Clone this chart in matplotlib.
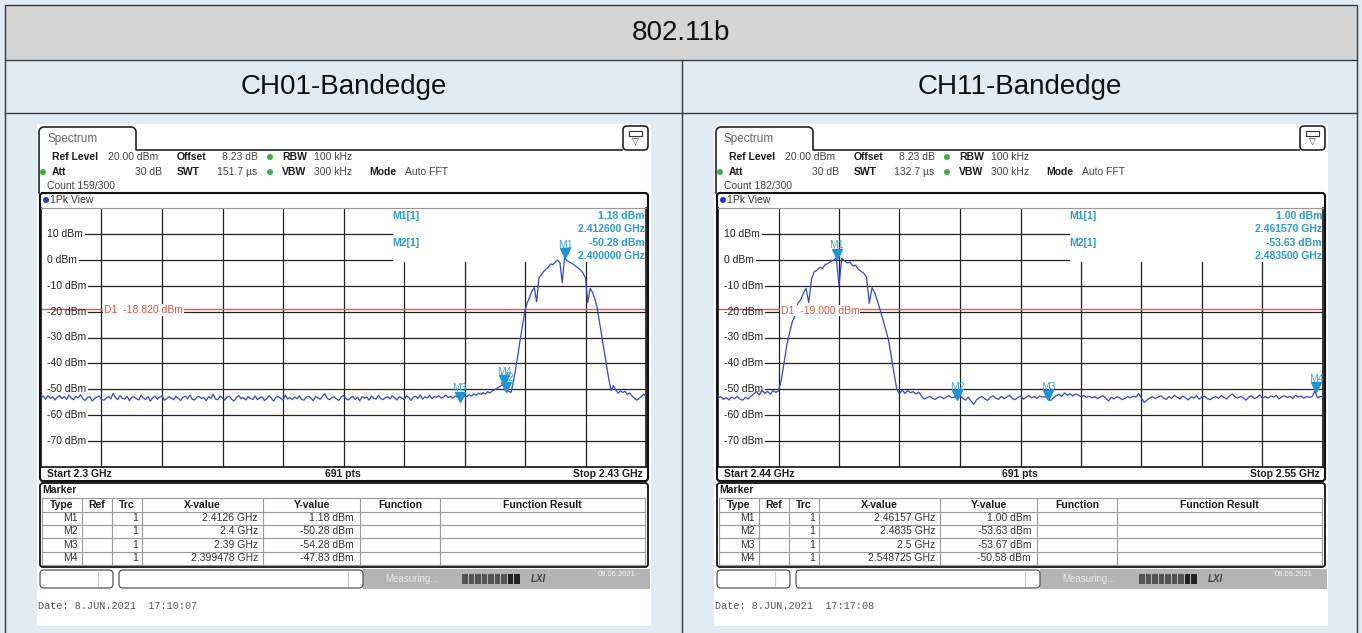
import numpy as np
import matplotlib
matplotlib.use('Agg')
import matplotlib.pyplot as plt
from matplotlib.patches import Rectangle, FancyBboxPatch, Circle
from matplotlib.transforms import offset_copy

plt.rcParams['font.family'] = ['Liberation Sans', 'DejaVu Sans']

# ---- data ----
title = '802.11b'
channels = ['CH01-Bandedge', 'CH11-Bandedge']

spans = [(2.30, 2.43), (2.44, 2.55)]
swt = ['151.7 µs', '132.7 µs']
counts = ['159/300', '182/300']
d1_level = [-18.82, -19.00]
clock = ['17:10:07', '17:17:08']

# trace levels in dBm, one value per 0.5 MHz across the span
ch01_level = [
    -53.2, -52.6, -53.8, -52.4, -53.5, -52.9, -54.1, -53.0, -52.5, -53.6,
    -52.8, -53.9, -52.2, -53.4, -54.0, -52.7, -53.3, -52.1, -53.7, -54.3,
    -53.1, -52.9, -54.5, -53.6, -53.0, -52.6, -53.9, -54.2, -53.4, -52.8,
    -53.7, -51.6, -53.2, -54.0, -52.4, -53.5, -53.8, -52.7, -54.4, -53.1,
    -52.9, -53.6, -54.1, -52.3, -53.4, -53.9, -52.8, -54.6, -53.3, -52.6,
    -53.8, -53.0, -52.5, -54.2, -53.6, -52.9, -53.4, -54.0, -52.7, -53.5,
    -54.3, -53.1, -52.6, -53.7, -52.2, -53.9, -54.1, -53.0, -52.8, -53.6,
    -53.2, -54.4, -52.9, -53.5, -51.9, -53.8, -54.0, -52.6, -53.3, -54.2,
    -53.0, -52.7, -53.9, -54.5, -53.1, -52.4, -53.6, -53.2, -54.1, -52.8,
    -53.5, -53.9, -52.6, -54.0, -53.3, -52.9, -54.3, -53.7, -52.5, -53.4,
    -54.6, -53.0, -52.8, -53.5, -54.1, -52.3, -53.7, -53.2, -54.0, -52.9,
    -53.6, -52.5, -53.9, -54.2, -53.1, -52.7, -53.4, -54.4, -52.8, -53.3,
    -53.8, -52.6, -51.8, -53.5, -54.0, -53.2, -52.9, -53.7, -54.3, -53.0,
    -52.4, -53.6, -54.1, -53.3, -52.7, -53.9, -53.1, -54.5, -52.8, -53.4,
    -53.0, -54.2, -52.6, -53.5, -53.8, -52.3, -53.6, -54.0, -53.2, -52.9,
    -53.7, -52.5, -53.3, -54.1, -52.8, -53.4, -53.9, -52.6, -53.1, -54.3,
    -53.0, -52.7, -53.5, -52.2, -53.8, -52.9, -53.3, -52.4, -53.6, -52.8,
    -53.1, -52.5, -53.4, -52.9, -52.3, -53.2, -52.7, -53.5, -52.6, -53.0,
    -54.3, -53.2, -52.6, -52.9, -52.1, -52.6, -51.8, -52.3, -51.5, -52.0,
    -51.3, -51.8, -50.9, -51.4, -50.6, -50.2, -49.6, -49.0, -48.4, -47.8,
    -50.3, -50.8, -51.2, -47.0, -42.0, -36.5, -30.5, -25.0, -19.5, -16.5,
    -14.5, -12.0, -10.8, -16.2, -7.0, -5.8, -4.5, -3.6, -2.8, -1.6,
    -1.9, -0.8, -0.2, -1.1, -8.8, 0.9, -0.3, -0.8, -1.4, -1.9,
    -2.6, -3.2, -4.1, -5.2, -7.0, -16.5, -11.0, -12.5, -15.0, -18.5,
    -24.0, -29.5, -35.0, -40.5, -46.0, -50.5, -48.6, -50.2, -51.5, -50.6,
    -51.2, -50.8, -52.0, -51.4, -52.6, -53.4, -54.2, -53.6, -52.8, -51.9,
    -52.7,
]

ch11_level = [
    -53.4, -52.8, -53.9, -53.2, -54.1, -53.0, -53.6, -52.7, -53.8, -54.2,
    -53.1, -53.7, -52.6, -51.8, -50.9, -52.2, -50.4, -51.6, -50.8, -51.9,
    -50.5, -51.2, -50.6, -46.5, -40.0, -33.0, -28.4, -24.0, -21.5, -16.8,
    -15.5, -13.0, -11.0, -16.5, -7.5, -4.6, -4.0, -2.9, -3.3, -1.8,
    -1.5, -0.6, -0.2, 0.8, -9.8, 0.5, -0.4, -1.2, -0.9, -2.4,
    -2.1, -3.6, -4.4, -5.2, -6.6, -16.8, -10.8, -12.8, -16.0, -19.5,
    -23.2, -27.0, -31.0, -37.4, -44.0, -50.0, -51.8, -50.2, -51.6, -50.5,
    -51.3, -50.9, -51.8, -51.1, -52.6, -53.8,
    -53.2, -52.7, -53.5, -53.9, -53.1, -52.8, -53.6, -53.0, -52.4, -53.3,
    -52.9, -53.6, -52.6, -53.4, -54.2, -53.0, -54.6, -55.8, -54.1, -53.2,
    -52.8, -53.7, -54.3, -53.1, -52.5, -53.4, -53.9, -52.7, -53.6, -53.0,
    -52.3, -53.5, -54.0, -53.2, -52.6, -53.8, -53.1, -52.4, -53.3, -52.8,
    -53.5, -52.6, -53.0, -52.9, -53.7, -54.3, -53.2, -52.5, -51.9, -52.8,
    -51.4, -52.3, -51.7, -52.6, -51.8, -52.2, -52.9, -52.4, -53.1, -52.7,
    -53.3, -52.8, -53.6, -53.0, -52.5, -53.4, -54.5, -53.1, -53.7, -52.9,
    -53.2, -54.0, -53.5, -52.8, -53.3, -52.6, -53.0, -51.6, -53.4, -55.1,
    -54.2, -53.3, -52.9, -53.6, -53.0, -52.5, -53.4, -53.9, -52.8, -53.5,
    -52.3, -53.1, -53.7, -52.6, -53.3, -54.1, -52.9, -53.4, -52.5, -53.8,
    -53.0, -52.7, -53.6, -54.0, -53.2, -52.8, -53.5, -52.4, -53.1, -53.7,
    -52.6, -51.8, -52.9, -53.4, -52.7, -53.3, -54.2, -53.0, -52.5, -53.6,
    -53.1, -52.2, -53.5, -52.8, -53.4, -52.6, -53.0, -52.4, -53.7, -52.9,
    -52.5, -53.2, -52.7, -53.6, -52.3, -53.0, -52.6, -53.4, -52.8, -53.1,
    -52.9, -50.6, -53.3, -52.7, -53.0,
]
levels = [ch01_level, ch11_level]

mk_names = ['M1', 'M2', 'M3', 'M4']
ch01_mk_freq = [2.4126, 2.4, 2.39, 2.399478]
ch01_mk_level = [1.18, -50.28, -54.28, -47.83]
ch11_mk_freq = [2.46157, 2.4835, 2.5, 2.548725]
ch11_mk_level = [1.00, -53.63, -53.67, -50.58]
mk_freq = [ch01_mk_freq, ch11_mk_freq]
mk_level = [ch01_mk_level, ch11_mk_level]

# ---- figure in pixel units ----
W, H = 1362, 633
fig = plt.figure(figsize=(W / 100, H / 100), dpi=100)
bg = fig.add_axes([0, 0, 1, 1])
bg.set_xlim(0, W)
bg.set_ylim(H, 0)
bg.axis('off')

BLUE_BG = '#e0ebf3'
LINE = '#3c3c3c'
TRACE = '#3347d4'
MK = '#1f93d6'
MKTXT = '#2a9ad8'
RED = '#e5534b'
FS = 7.5

bg.add_patch(Rectangle((0, 0), W, H, fc=BLUE_BG, ec='none', zorder=0))
bg.add_patch(Rectangle((5, 5), 1352, 55, fc='#d5d5d5', ec=LINE, lw=1, zorder=0.5))
bg.plot([5, 1357], [113, 113], color=LINE, lw=1)
bg.plot([5, 5], [60, H], color=LINE, lw=1)
bg.plot([1357, 1357], [60, H], color=LINE, lw=1)
bg.plot([682, 682], [60, H], color=LINE, lw=1)
bg.text(681, 33, title, ha='center', va='center', fontsize=20, color='#111')
bg.text(344, 87, channels[0], ha='center', va='center', fontsize=20, color='#111')
bg.text(1020, 87, channels[1], ha='center', va='center', fontsize=20, color='#111')

renderer = fig.canvas.get_renderer()


def txt(x, y, s, **kw):
    kw.setdefault('fontsize', FS)
    kw.setdefault('color', '#1a1a1a')
    kw.setdefault('va', 'center')
    return bg.text(x, y, s, **kw)


def draw_screen(n, ox):
    start, stop = spans[n]
    # white screenshot panel
    bg.add_patch(Rectangle((37 + ox, 124), 614, 502, fc='white', ec='none', zorder=0.6))

    # tab outline
    r = 5
    left, right, top, base = 39 + ox, 136 + ox, 127, 150
    t1 = np.linspace(np.pi, 1.5 * np.pi, 12)
    t2 = np.linspace(1.5 * np.pi, 2 * np.pi, 12)
    xs = np.concatenate([[left], left + r + r * np.cos(t1), right - r + r * np.cos(t2), [right, 622 + ox]])
    ys = np.concatenate([[193], top + r + r * np.sin(t1), top + r + r * np.sin(t2), [base, base]])
    bg.plot(xs, ys, color='#222', lw=1.2, zorder=2)
    txt(47 + ox, 139, 'Spectrum', fontsize=8.5, color='#666')
    bg.add_patch(FancyBboxPatch((623 + ox, 126), 25, 24, boxstyle='round,pad=0,rounding_size=4',
                                fc='white', ec='#222', lw=1.2, zorder=2))
    bg.add_patch(Rectangle((629 + ox, 131), 13, 5, fc='white', ec='#333', lw=0.8, zorder=3))
    txt(635.5 + ox, 142.5, '▽', ha='center', fontsize=6.5, color='#333')

    # settings header
    txt(52 + ox, 157, 'Ref Level', fontweight='bold')
    txt(108 + ox, 157, '20.00 dBm', color='#444')
    txt(177 + ox, 157, 'Offset', fontweight='bold')
    txt(222 + ox, 157, '8.23 dB', color='#444')
    txt(282 + ox, 157, 'RBW', fontweight='bold')
    txt(314 + ox, 157, '100 kHz', color='#444')
    txt(52 + ox, 172, 'Att', fontweight='bold')
    txt(162 + ox, 172, '30 dB', ha='right', color='#444')
    txt(177 + ox, 172, 'SWT', fontweight='bold')
    txt(217 + ox, 172, swt[n], color='#444')
    txt(282 + ox, 172, 'VBW', fontweight='bold')
    txt(314 + ox, 172, '300 kHz', color='#444')
    txt(369 + ox, 172, 'Mode', fontweight='bold')
    txt(405 + ox, 172, 'Auto FFT', color='#444')
    txt(47 + ox, 186, 'Count ' + counts[n], color='#444')
    for cx, cy in [(270 + ox, 157), (43 + ox, 172), (270 + ox, 172)]:
        bg.add_patch(Circle((cx, cy), 3, fc='#3fae49', ec='none', zorder=3))

    # trace window frame
    bg.add_patch(FancyBboxPatch((40 + ox, 193), 608, 288, boxstyle='round,pad=0,rounding_size=3',
                                fc='white', ec='#111', lw=1.5, zorder=1))
    bg.add_patch(Circle((46 + ox, 200), 3, fc='#2238c8', ec='none', zorder=3))
    txt(50 + ox, 200, '1Pk View', color='#333')
    txt(47 + ox, 474, 'Start %g GHz' % start, fontweight='bold')
    txt(343 + ox, 474, '691 pts', ha='center', fontweight='bold')
    txt(643 + ox, 474, 'Stop %g GHz' % stop, ha='right', fontweight='bold')

    ax = fig.add_axes([(41 + ox) / W, 1 - 467 / H, 605 / W, 259 / H])
    ax.set_xlim(start, stop)
    ax.set_ylim(-80, 20)
    ax.set_xticks([])
    ax.set_yticks([])
    for s in ['left', 'right', 'bottom']:
        ax.spines[s].set_color('#111')
        ax.spines[s].set_linewidth(1.2)
    ax.spines['top'].set_color('#999')
    ax.spines['top'].set_linewidth(0.8)

    span = stop - start
    for k in range(1, 10):
        ax.axvline(start + span * k / 10, ymin=0, ymax=0.79 if k >= 6 else 1,
                   color='#222', lw=0.9, zorder=1)

    axbb = ax.get_window_extent(renderer)
    for lv in range(10, -80, -10):
        t = ax.text(0.0099, lv, '%d dBm' % lv, transform=ax.get_yaxis_transform(),
                    va='center', ha='left', fontsize=FS, color='#222')
        bb = t.get_window_extent(renderer)
        xmin = (bb.x1 - axbb.x0) / axbb.width + 0.003
        ax.axhline(lv, xmin=xmin, xmax=0.58 if lv >= 0 else 1, color='#222', lw=0.9, zorder=1)

    # display line
    ax.axhline(d1_level[n], color=RED, lw=1, zorder=2)
    ax.text(0.104, d1_level[n] - 0.6, 'D1  %.3f dBm' % d1_level[n], transform=ax.get_yaxis_transform(),
            va='center', ha='left', fontsize=FS, color=RED, zorder=5,
            bbox=dict(fc='white', ec='none', pad=0.6))

    lev = levels[n]
    freq = np.linspace(start, stop, len(lev))
    ax.plot(freq, lev, color=TRACE, lw=0.9, zorder=3)

    tri = offset_copy(ax.transData, fig=fig, x=0, y=3.5, units='dots')
    for name, f, l in zip(mk_names, mk_freq[n], mk_level[n]):
        ax.plot([f], [l], marker='v', ms=6.5, color=MK, mec=MK, transform=tri, zorder=4, clip_on=False)
        ax.annotate(name, (f, l), xytext=(0, 12), textcoords='offset pixels', ha='center', va='center',
                    fontsize=FS, color='#3aa7de', zorder=4)

    # marker readout box
    f1, f2 = mk_freq[n][0], mk_freq[n][1]
    l1, l2 = mk_level[n][0], mk_level[n][1]
    tr = bg.transData
    ax.text(392 + ox, 216, 'M1[1]', transform=tr, va='center', fontsize=FS, color=MKTXT, fontweight='bold')
    ax.text(392 + ox, 243, 'M2[1]', transform=tr, va='center', fontsize=FS, color=MKTXT, fontweight='bold')
    for y, s in [(216, '%.2f dBm' % l1), (229, '%.6f GHz' % f1), (243, '%.2f dBm' % l2), (256, '%.6f GHz' % f2)]:
        ax.text(645 + ox, y, s, transform=tr, va='center', ha='right', fontsize=FS,
                color=MKTXT, fontweight='bold', zorder=5)

    # marker table
    bg.add_patch(FancyBboxPatch((40 + ox, 483), 608, 84, boxstyle='round,pad=0,rounding_size=3',
                                fc='white', ec='#111', lw=1.3, zorder=1))
    txt(42 + ox, 490, 'Marker', fontweight='bold')
    rows_y = [498, 511.5, 525, 538, 551.5, 564.5]
    cols_x = [42, 82, 112, 142, 263, 360, 440, 645]
    for y in rows_y:
        bg.plot([42 + ox, 645 + ox], [y, y], color='#9a9a9a', lw=0.8, zorder=2)
    for x in cols_x:
        bg.plot([x + ox, x + ox], [498, 564.5], color='#9a9a9a', lw=0.8, zorder=2)
    heads = ['Type', 'Ref', 'Trc', 'X-value', 'Y-value', 'Function', 'Function Result']
    for i, hname in enumerate(heads):
        txt((cols_x[i] + cols_x[i + 1]) / 2 + ox, 505, hname, ha='center', fontweight='bold')
    for i, name in enumerate(mk_names):
        y = (rows_y[i + 1] + rows_y[i + 2]) / 2
        txt(78 + ox, y, name, ha='right', color='#333')
        txt(138 + ox, y, '1', ha='right', color='#333')
        txt(258 + ox, y, '%.7g GHz' % mk_freq[n][i], ha='right', color='#333')
        txt(354 + ox, y, '%.2f dBm' % mk_level[n][i], ha='right', color='#333')

    # status bar
    bg.add_patch(FancyBboxPatch((40 + ox, 570), 73, 18, boxstyle='round,pad=0,rounding_size=4',
                                fc='white', ec='#555', lw=0.9, zorder=2))
    bg.plot([98 + ox, 98 + ox], [572, 586], color='#ccc', lw=0.8, zorder=3)
    bg.add_patch(FancyBboxPatch((119 + ox, 570), 244, 18, boxstyle='round,pad=0,rounding_size=4',
                                fc='white', ec='#555', lw=0.9, zorder=2))
    bg.plot([348 + ox, 348 + ox], [572, 586], color='#ccc', lw=0.8, zorder=3)
    bg.add_patch(Rectangle((363 + ox, 569), 287, 20, fc='#b4b4b4', ec='none', zorder=1.5))
    txt(385 + ox, 579, 'Measuring...', fontsize=7, color='#e8e8e8')
    for k in range(9):
        bg.add_patch(Rectangle((462 + ox + k * 6.5, 574), 5.5, 10,
                               fc='#222' if k >= 7 else '#555', ec='none', zorder=3))
    txt(531 + ox, 579, 'LXI', fontsize=7, color='#444', fontweight='bold', style='italic')
    txt(598 + ox, 575, '08.06.2021', fontsize=5.5, color='#f2f2f2')

    bg.text(38 + ox, 606, 'Date: 8.JUN.2021  ' + clock[n], fontsize=7.3, color='#555',
            family='Liberation Mono', va='center')


draw_screen(0, 0)
draw_screen(1, 677)

fig.savefig('out.png', dpi=100)
